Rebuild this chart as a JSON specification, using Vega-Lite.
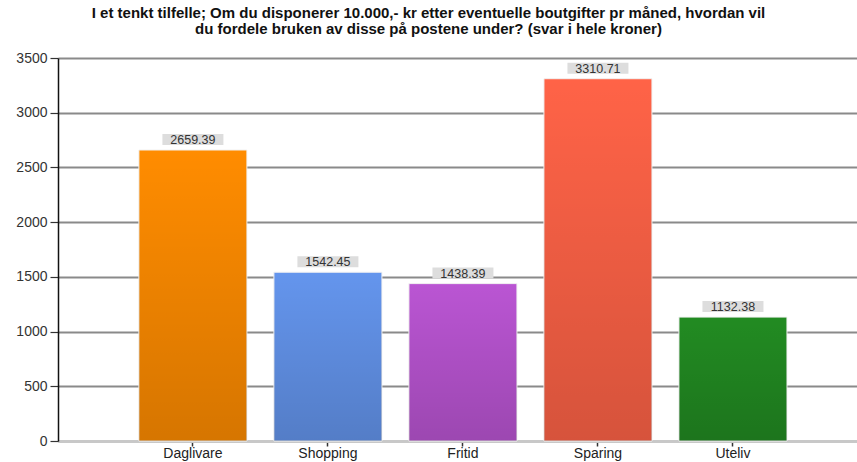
{
  "$schema": "https://vega.github.io/schema/vega-lite/v6.json",
  "autosize": "none",
  "width": 799,
  "height": 383,
  "padding": {"left": 58, "top": 58, "right": 0, "bottom": 21},
  "background": "white",
  "config": {"view": {"stroke": null}, "font": "Liberation Sans"},
  "title": {
    "text": ["I et tenkt tilfelle; Om du disponerer  10.000,- kr etter eventuelle boutgifter pr måned, hvordan vil", "du fordele bruken av disse på postene under? (svar i hele kroner)"],
    "anchor": "middle",
    "dx": -29,
    "offset": 14,
    "font": "Liberation Sans",
    "fontSize": 15,
    "fontWeight": "bold",
    "color": "#111",
    "lineHeight": 16
  },
  "data": {
    "values": [
      {"post": "Daglivare", "verdi": 2659.39},
      {"post": "Shopping", "verdi": 1542.45},
      {"post": "Fritid", "verdi": 1438.39},
      {"post": "Sparing", "verdi": 3310.71},
      {"post": "Uteliv", "verdi": 1132.38}
    ]
  },
  "encoding": {
    "x": {
      "field": "post", "type": "nominal", "sort": null,
      "scale": {"paddingInner": 0.2, "paddingOuter": 0.559, "align": 0.536},
      "axis": {
        "title": null, "labelAngle": 0, "labelFontSize": 14, "labelColor": "#222",
        "labelFont": "Liberation Sans", "labelPadding": 0,
        "domainColor": "#c8c8c8", "domainWidth": 3, "tickColor": "#333", "tickSize": 5, "tickWidth": 1.5
      }
    },
    "y": {
      "field": "verdi", "type": "quantitative",
      "scale": {"domain": [0, 3500], "nice": false},
      "axis": {
        "title": null, "values": [0, 500, 1000, 1500, 2000, 2500, 3000, 3500], "format": "d",
        "labelFontSize": 14, "labelColor": "#333", "labelFont": "Liberation Sans", "labelPadding": 3,
        "domainColor": "#111", "domainWidth": 1.5, "tickColor": "#333", "tickSize": 8, "tickWidth": 1.2,
        "grid": true, "gridColor": "#8a8a8a", "gridWidth": 2
      }
    }
  },
  "layer": [
    {
      "mark": {"type": "bar", "stroke": "#f2f2f2", "strokeWidth": 1},
      "encoding": {
        "color": {
          "field": "post", "type": "nominal", "sort": null, "legend": null,
          "scale": {
            "domain": ["Daglivare", "Shopping", "Fritid", "Sparing", "Uteliv"],
            "range": ["#ff8c00", "#6495ed", "#ba55d3", "#ff6347", "#228b22"]
          }
        }
      }
    },
    {
      "mark": {
        "type": "bar",
        "color": {
          "gradient": "linear", "x1": 0, "y1": 0, "x2": 0, "y2": 1,
          "stops": [
            {"offset": 0, "color": "rgba(0,0,0,0)"},
            {"offset": 1, "color": "rgba(0,0,0,0.16)"}
          ]
        }
      },
      "encoding": {}
    },
    {
      "mark": {
        "type": "point", "filled": true, "color": "#dddddd", "opacity": 1,
        "shape": "M-1,-0.18L1,-0.18L1,0.18L-1,0.18Z", "size": 3721, "yOffset": -10.5, "strokeWidth": 0
      },
      "encoding": {}
    },
    {
      "mark": {"type": "text", "fontSize": 12.5, "color": "#333", "baseline": "middle", "dy": -10, "font": "Liberation Sans"},
      "encoding": {"text": {"field": "verdi", "type": "quantitative", "format": ".2f"}}
    }
  ]
}
